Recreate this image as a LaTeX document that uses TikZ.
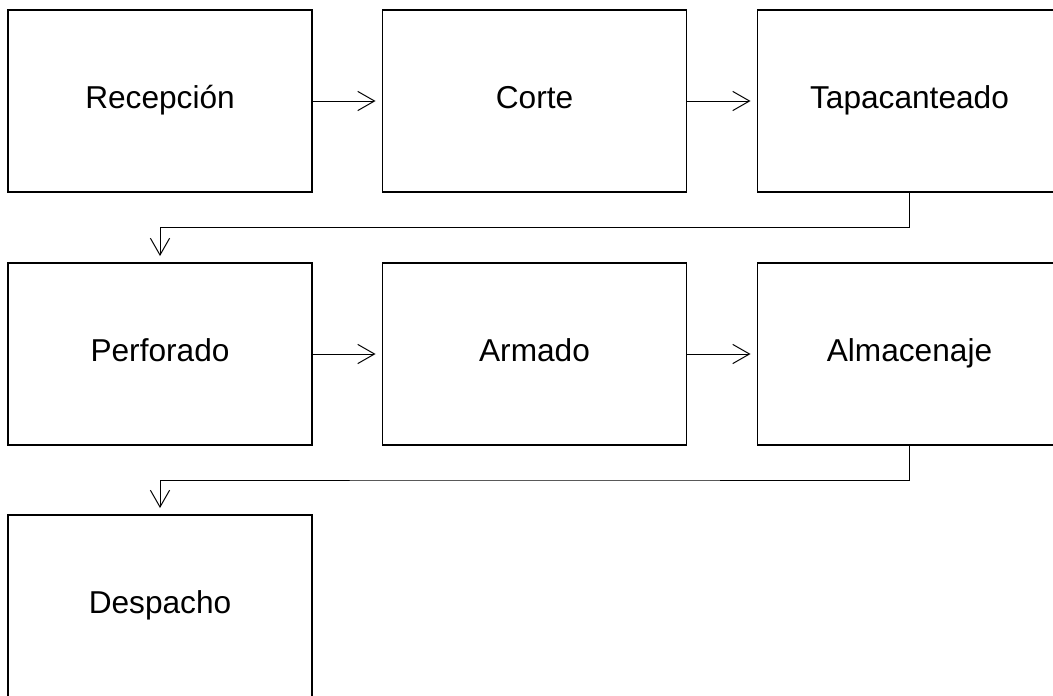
\documentclass[tikz,border=0pt]{standalone}
\usepackage{fontspec}
\setmainfont{Liberation Sans}
\usepackage{tikz}
\usetikzlibrary{arrows.meta,calc}

\begin{document}
\begin{tikzpicture}
\clip (0,0) rectangle (26.325,-17.375);
\begin{scope}[every node/.style={rectangle,draw,line width=1.4pt,minimum width=7.6cm,minimum height=4.55cm,text height=1.18em,text depth=0.08em,font=\fontsize{22.5}{27}\selectfont}]
    \node (1) at (4.0,-2.525) {Recepción};
    \node (2) at (13.3625,-2.525) {Corte};
    \node (3) at (22.7375,-2.525) {Tapacanteado};
    \node (4) at (4.0,-8.85) {Perforado};
    \node (5) at (13.3625,-8.85) {Armado};
    \node (6) at (22.7375,-8.85) {Almacenaje};
    \node (7) at (4.0,-15.15) {Despacho};
\end{scope}
\begin{scope}[>={Straight Barb[length=0.42cm,width=0.48cm]}, line width=0.7pt, shorten >=0.15cm]

    \path [->] (1) edge (2);
    \path [->] (2) edge (3);
    \draw [->] (3.south) |- ($(3.south)!0.5!(4.north)$) -| (4.north);
    \path [->] (4) edge (5);
    \path [->] (5) edge (6);
    \draw [->] (6.south) |- ($(6.south)!0.5!(7.north)$) -| (7.north);
\end{scope}
\end{tikzpicture}
\end{document}
